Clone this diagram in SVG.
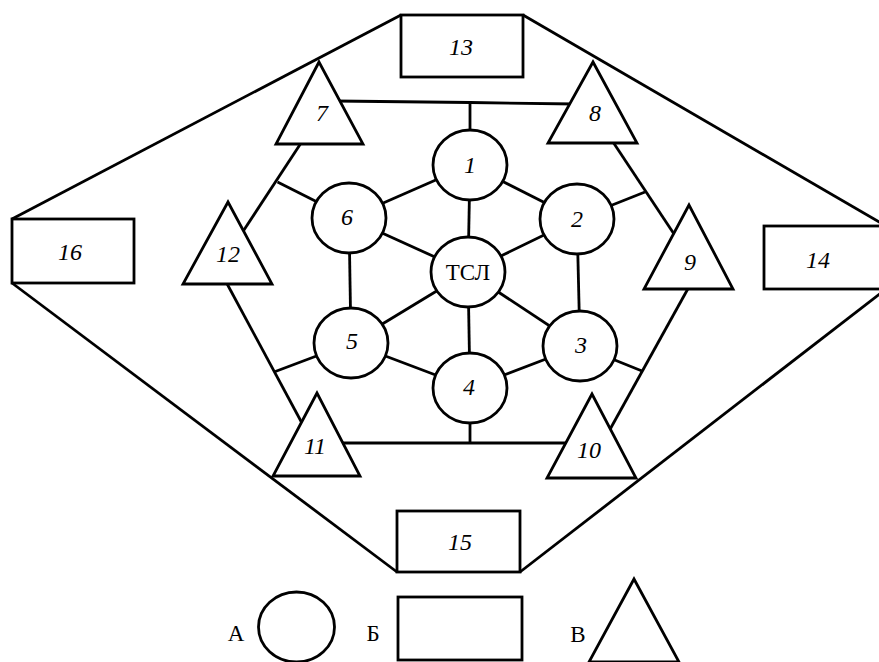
<svg xmlns="http://www.w3.org/2000/svg" width="879" height="662" viewBox="0 0 879 662">
<style>
.s{fill:#fff;stroke:#000;stroke-width:2.8;stroke-linejoin:miter}
.c line,.c polyline{stroke:#000;stroke-width:2.8;fill:none;stroke-linecap:butt}
.n{font-family:"Liberation Serif","Times New Roman",serif;font-style:italic;font-size:24px;text-anchor:middle;fill:#000}
.u{font-family:"Liberation Serif","Times New Roman",serif;font-size:23px;text-anchor:middle;fill:#000}
</style>
<rect width="879" height="662" fill="#fff"/>
<g id="connectors" class="c">
<line x1="12" y1="219" x2="401" y2="15"/>
<line x1="523" y1="15" x2="886" y2="226"/>
<line x1="12" y1="283" x2="397" y2="572"/>
<line x1="520" y1="572" x2="886" y2="289"/>
<polyline points="335,101 470,102.5 575,104"/>
<line x1="470" y1="102.5" x2="470" y2="140"/>
<polyline points="335,443 470,443 575,443"/>
<line x1="470" y1="443" x2="470" y2="410"/>
<line x1="303" y1="140" x2="240" y2="236"/>
<line x1="277.5" y1="182" x2="349" y2="218"/>
<line x1="611" y1="139" x2="676" y2="237"/>
<line x1="645" y1="192" x2="577" y2="219"/>
<line x1="225" y1="280" x2="303" y2="425"/>
<line x1="274" y1="372" x2="351" y2="343"/>
<line x1="690" y1="285" x2="608" y2="433"/>
<line x1="642" y1="371" x2="580" y2="346"/>
<line x1="470" y1="165" x2="349" y2="218"/>
<line x1="470" y1="165" x2="577" y2="219"/>
<line x1="470" y1="165" x2="468" y2="272"/>
<line x1="468" y1="272" x2="349" y2="218"/>
<line x1="468" y1="272" x2="577" y2="219"/>
<line x1="349" y1="218" x2="351" y2="343"/>
<line x1="577" y1="219" x2="580" y2="346"/>
<line x1="468" y1="272" x2="351" y2="343"/>
<line x1="468" y1="272" x2="580" y2="346"/>
<line x1="468" y1="272" x2="470" y2="388"/>
<line x1="351" y1="343" x2="470" y2="388"/>
<line x1="580" y1="346" x2="470" y2="388"/>
</g>
<g id="n13"><rect class="s" x="401" y="15" width="122" height="62"/><text class="n" x="461" y="55">13</text></g>
<g id="n14"><rect class="s" x="764" y="226" width="124" height="63"/><text class="n" x="818" y="268">14</text></g>
<g id="n15"><rect class="s" x="397" y="511" width="123" height="61"/><text class="n" x="460" y="550">15</text></g>
<g id="n16"><rect class="s" x="12" y="219" width="122" height="64"/><text class="n" x="70" y="260">16</text></g>
<g id="n7"><polygon class="s" points="319,62 276,144 363,144"/><text class="n" x="322" y="121">7</text></g>
<g id="n8"><polygon class="s" points="593,62 548,143 637,143"/><text class="n" x="595" y="121">8</text></g>
<g id="n12"><polygon class="s" points="228,202 183,284 272,284"/><text class="n" x="228" y="262">12</text></g>
<g id="n9"><polygon class="s" points="689,205 644,289 733,289"/><text class="n" x="690" y="270">9</text></g>
<g id="n11"><polygon class="s" points="317,393 273,476 360,476"/><text class="n" x="315" y="454">11</text></g>
<g id="n10"><polygon class="s" points="592,394 547,478 636,478"/><text class="n" x="589" y="458">10</text></g>
<g id="n1"><ellipse class="s" cx="470" cy="165" rx="37" ry="35"/><text class="n" x="470" y="173">1</text></g>
<g id="n2"><ellipse class="s" cx="577" cy="219" rx="37" ry="35"/><text class="n" x="577" y="227">2</text></g>
<g id="n3"><ellipse class="s" cx="580" cy="346" rx="37" ry="35"/><text class="n" x="581" y="353">3</text></g>
<g id="n4"><ellipse class="s" cx="470" cy="388" rx="37" ry="35"/><text class="n" x="469" y="395">4</text></g>
<g id="n5"><ellipse class="s" cx="351" cy="343" rx="37" ry="35"/><text class="n" x="352" y="349">5</text></g>
<g id="n6"><ellipse class="s" cx="349" cy="218" rx="37" ry="35"/><text class="n" x="347" y="225">6</text></g>
<g id="tsl"><ellipse class="s" cx="468" cy="272" rx="37" ry="35"/><text class="u" x="468" y="280">ТСЛ</text></g>
<g id="legend">
<text class="u" x="236" y="641">А</text>
<ellipse class="s" cx="296.5" cy="627" rx="38" ry="35"/>
<text class="u" x="373" y="641">Б</text>
<rect class="s" x="398" y="597" width="124" height="63"/>
<text class="u" x="578" y="642">В</text>
<polygon class="s" points="634,579 589,662 679,662"/>
</g>
</svg>
